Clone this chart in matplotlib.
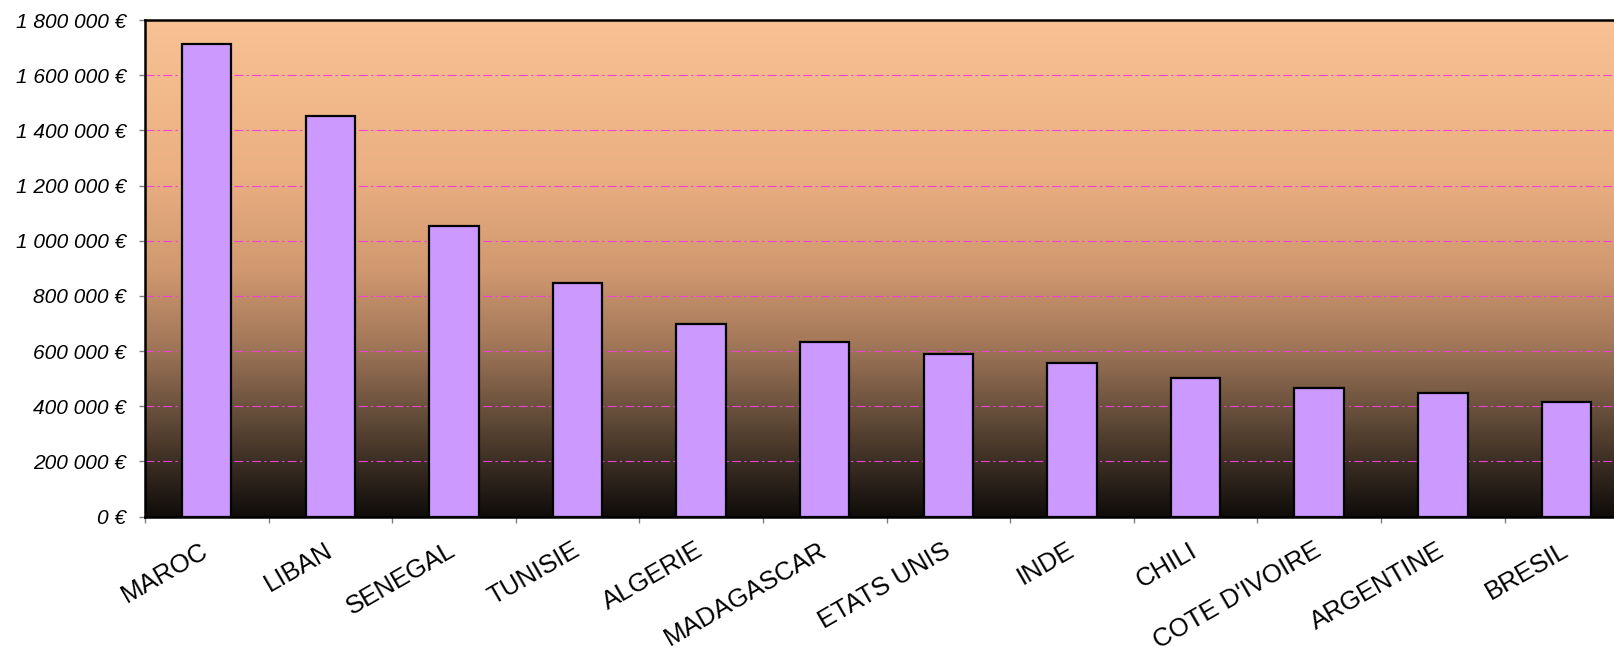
import numpy as np
import matplotlib.pyplot as plt
from matplotlib.colors import LinearSegmentedColormap
from matplotlib.ticker import FuncFormatter

plt.rcParams['font.family'] = ['Liberation Sans', 'DejaVu Sans']

# data
pays = ["MAROC", "LIBAN", "SENEGAL", "TUNISIE", "ALGERIE", "MADAGASCAR",
        "ETATS UNIS", "INDE", "CHILI", "COTE D'IVOIRE", "ARGENTINE", "BRESIL"]
montants = [1712000, 1451000, 1052000, 846000, 698000, 634000,
            589000, 556000, 504000, 468000, 449000, 417000]
y_ticks = [0, 200000, 400000, 600000, 800000, 1000000, 1200000, 1400000, 1600000, 1800000]

fig = plt.figure(figsize=(16.14, 6.56), dpi=100)
# plot area runs past the right edge, as in the original
ax = fig.add_axes([0.0898, 0.2124, 0.919, 0.757])

x = np.arange(len(pays))

# peach -> almost black background gradient
fond = LinearSegmentedColormap.from_list("fond", [
    (0.0, (0.976, 0.761, 0.580)),
    (0.3, (0.925, 0.690, 0.510)),
    (0.5, (0.820, 0.600, 0.440)),
    (0.65, (0.640, 0.470, 0.350)),
    (0.78, (0.420, 0.320, 0.240)),
    (0.9, (0.220, 0.170, 0.130)),
    (1.0, (0.060, 0.050, 0.040)),
])
grad = np.linspace(0, 1, 256).reshape(-1, 1)
ax.imshow(grad, cmap=fond, aspect='auto', extent=[0, 1, 0, 1],
          transform=ax.transAxes, zorder=0)

ax.set_xlim(-0.5, len(pays) - 0.5)
ax.set_ylim(0, 1800000)

for v in y_ticks[1:-1]:
    ax.axhline(v, color='#f040d8', lw=0.8, ls=(0, (8, 3, 2, 3)), zorder=1)

ax.bar(x, montants, width=0.4, color='#cc99ff', edgecolor='black',
       linewidth=1.6, zorder=3)

ax.set_yticks(y_ticks)
ax.yaxis.set_major_formatter(FuncFormatter(
    lambda v, p: "{:,.0f} €".format(v).replace(",", " ")))
for lab in ax.get_yticklabels():
    lab.set_fontstyle('italic')
ax.tick_params(axis='y', direction='out', length=4.5, width=1, color='#808080',
               labelsize=15, pad=9)

ax.set_xticks(np.arange(len(pays) + 1) - 0.5)
ax.set_xticklabels([])
ax.tick_params(axis='x', which='major', direction='out', length=4.5, width=1,
               color='#808080')
ax.set_xticks(x, minor=True)
ax.set_xticklabels(pays, minor=True, rotation=30, ha='right',
                   va='center', rotation_mode='anchor', fontsize=18.5)
ax.tick_params(axis='x', which='minor', length=0, pad=23)

for s in ax.spines.values():
    s.set_color('black')
    s.set_linewidth(1.8)
    s.set_zorder(4)

fig.savefig("out.png", dpi=100)
